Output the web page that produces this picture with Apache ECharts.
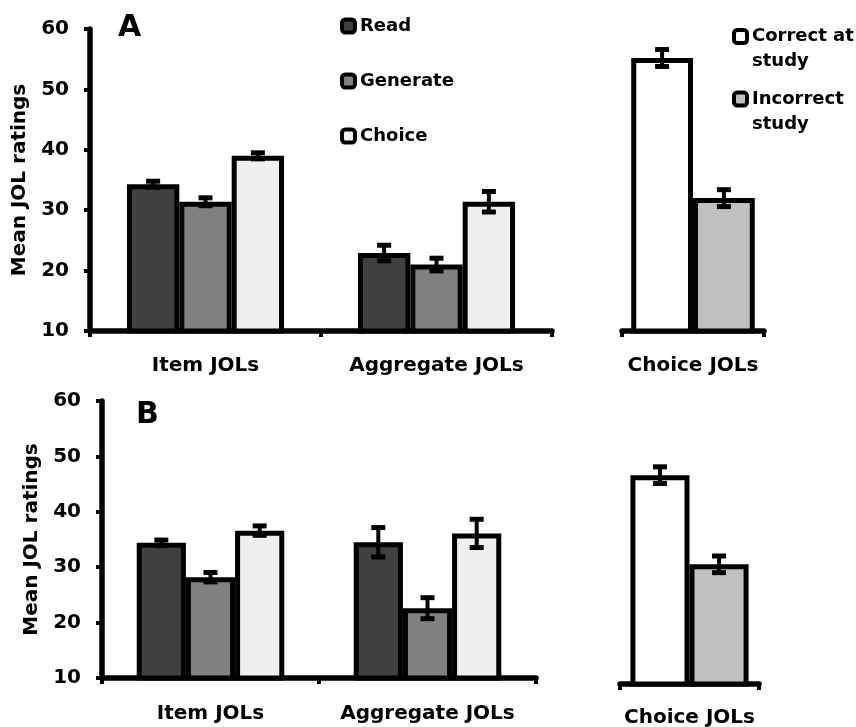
<!DOCTYPE html>
<html>
<head>
<meta charset="utf-8">
<script src="https://cdn.jsdelivr.net/npm/echarts@6/dist/echarts.min.js"></script>
<style>html,body{margin:0;padding:0;background:#fff}#c{width:856px;height:727px}</style>
</head>
<body>
<div id="c"></div>
<script>
// ---- data ----
const categories = ['Item JOLs', 'Aggregate JOLs'];
const choiceCategory = ['Choice JOLs'];
const yTicks = [10, 20, 30, 40, 50, 60];

const readA = [34.3, 22.9];       const readErrA = [0.5, 1.3];
const generateA = [31.4, 21.0];   const generateErrA = [0.65, 1.05];
const choiceA = [39.0, 31.4];     const choiceErrA = [0.5, 1.7];
const correctA = [55.2];          const correctErrA = [1.4];
const incorrectA = [32.0];        const incorrectErrA = [1.4];

const readB = [34.4, 34.5];       const readErrB = [0.5, 2.65];
const generateB = [28.2, 22.6];   const generateErrB = [0.85, 1.9];
const choiceB = [36.6, 36.1];     const choiceErrB = [0.85, 2.55];
const correctB = [47.7];          const correctErrB = [1.5];
const incorrectB = [31.6];        const incorrectErrB = [1.5];

// ---- style ----
const FONT = '"DejaVu Sans", sans-serif';
const COL = {Read:'#404040', Generate:'#808080', Choice:'#efefef', Correct:'#ffffff', Incorrect:'#c0c0c0'};
const GAP_MAIN = 0.32, GAP_CHOICE_A = 0.13, GAP_CHOICE_B = 0.15;

function xAxis(gi, data, margin) {
  return {
    type:'category', gridIndex:gi, data:data,
    axisLine:{show:true, lineStyle:{color:'#000', width:5.5}},
    axisTick:{show:true, length:6, lineStyle:{color:'#000', width:4}},
    axisLabel:{interval:0, hideOverlap:false, margin:margin, fontSize:20, fontWeight:'bold', color:'#000', fontFamily:FONT},
    splitLine:{show:false}
  };
}
function yAxis(gi, visible) {
  return {
    type:'value', gridIndex:gi, min:yTicks[0], max:yTicks[yTicks.length-1], interval:10,
    show:visible,
    name: visible ? 'Mean JOL ratings' : '', nameLocation:'middle', nameGap:60, nameRotate:90,
    nameTextStyle:{fontSize:20, fontWeight:'bold', color:'#000', fontFamily:FONT},
    axisLine:{show:true, lineStyle:{color:'#000', width:5.5}},
    axisTick:{show:true, length:6, lineStyle:{color:'#000', width:4}},
    axisLabel:{margin:21, fontSize:20, fontWeight:'bold', color:'#000', fontFamily:FONT},
    splitLine:{show:false}
  };
}
function bar(name, data, gi, gap) {
  return {
    type:'bar', name:name, xAxisIndex:gi, yAxisIndex:gi, data:data,
    barGap:'0%', barCategoryGap:(gap*100)+'%',
    itemStyle:{color:COL[name.split(' ')[0]], borderColor:'#000', borderWidth:5},
    emphasis:{disabled:true}
  };
}
function errBars(vals, errs, gi, i, n, gap) {
  return {
    type:'custom', xAxisIndex:gi, yAxisIndex:gi, z:10, silent:true,
    data: vals.map((v, k) => [k, v, errs[k]]),
    encode:{x:0, y:1},
    renderItem: function (params, api) {
      const k = api.value(0), v = api.value(1), e = api.value(2);
      const c = api.coord([k, v]);
      const band = api.size([1, 0])[0];
      const group = band * (1 - gap);
      const bw = group / n;
      const x = c[0] - group / 2 + (i + 0.5) * bw;
      const yT = api.coord([k, v + e])[1], yB = api.coord([k, v - e])[1];
      return {type:'group', children:[
        {type:'line', shape:{x1:x, y1:yT, x2:x, y2:yB}, style:{stroke:'#000', lineWidth:4}},
        {type:'line', shape:{x1:x-7, y1:yT, x2:x+7, y2:yT}, style:{stroke:'#000', lineWidth:5}},
        {type:'line', shape:{x1:x-7, y1:yB, x2:x+7, y2:yB}, style:{stroke:'#000', lineWidth:5}}
      ]};
    }
  };
}
const legendBase = {
  icon:'roundRect', itemWidth:13, itemHeight:13, padding:0, selectedMode:false,
  itemStyle:{borderColor:'#000', borderWidth:4}
};
const legendText = {fontSize:18, fontWeight:'bold', color:'#000', fontFamily:FONT};

const option = {
  animation:false,
  backgroundColor:'#fff',
  title:[
    {text:'A', left:118, top:13, padding:0, textStyle:{fontSize:30, fontWeight:'bold', color:'#000', fontFamily:FONT}},
    {text:'B', left:136, top:400, padding:0, textStyle:{fontSize:30, fontWeight:'bold', color:'#000', fontFamily:FONT}}
  ],
  legend:[
    Object.assign({}, legendBase, {data:['Read','Generate','Choice'], orient:'vertical', left:340, top:16, itemGap:35,
      textStyle:Object.assign({lineHeight:20}, legendText)}),
    Object.assign({}, legendBase, {data:['Correct at study'], left:732, top:-1,
      formatter: n => '\n' + n.replace(' study', '\nstudy'),
      textStyle:Object.assign({lineHeight:25}, legendText)}),
    Object.assign({}, legendBase, {data:['Incorrect study'], left:732, top:61.5,
      formatter: n => '\n' + n.replace(' study', '\nstudy'),
      textStyle:Object.assign({lineHeight:25}, legendText)})
  ],
  grid:[
    {left:90, top:29, width:462, height:302, containLabel:false, outerBoundsMode:'none'},
    {left:622, top:29, width:142, height:302, containLabel:false, outerBoundsMode:'none'},
    {left:102, top:401, width:434, height:277, containLabel:false, outerBoundsMode:'none'},
    {left:620, top:407, width:139, height:277, containLabel:false, outerBoundsMode:'none'}
  ],
  xAxis:[
    xAxis(0, categories, 25),
    xAxis(1, choiceCategory, 25),
    xAxis(2, categories, 26),
    xAxis(3, choiceCategory, 24)
  ],
  yAxis:[yAxis(0, true), yAxis(1, false), yAxis(2, true), yAxis(3, false)],
  series:[
    bar('Read', readA, 0, GAP_MAIN), bar('Generate', generateA, 0, GAP_MAIN), bar('Choice', choiceA, 0, GAP_MAIN),
    errBars(readA, readErrA, 0, 0, 3, GAP_MAIN), errBars(generateA, generateErrA, 0, 1, 3, GAP_MAIN), errBars(choiceA, choiceErrA, 0, 2, 3, GAP_MAIN),
    bar('Correct at study', correctA, 1, GAP_CHOICE_A), bar('Incorrect study', incorrectA, 1, GAP_CHOICE_A),
    errBars(correctA, correctErrA, 1, 0, 2, GAP_CHOICE_A), errBars(incorrectA, incorrectErrA, 1, 1, 2, GAP_CHOICE_A),
    bar('Read', readB, 2, GAP_MAIN), bar('Generate', generateB, 2, GAP_MAIN), bar('Choice', choiceB, 2, GAP_MAIN),
    errBars(readB, readErrB, 2, 0, 3, GAP_MAIN), errBars(generateB, generateErrB, 2, 1, 3, GAP_MAIN), errBars(choiceB, choiceErrB, 2, 2, 3, GAP_MAIN),
    bar('Correct at study', correctB, 3, GAP_CHOICE_B), bar('Incorrect study', incorrectB, 3, GAP_CHOICE_B),
    errBars(correctB, correctErrB, 3, 0, 2, GAP_CHOICE_B), errBars(incorrectB, incorrectErrB, 3, 1, 2, GAP_CHOICE_B)
  ]
};
const chart = echarts.init(document.getElementById('c'), null, {renderer:'canvas'});
chart.setOption(option);
</script>
</body>
</html>
